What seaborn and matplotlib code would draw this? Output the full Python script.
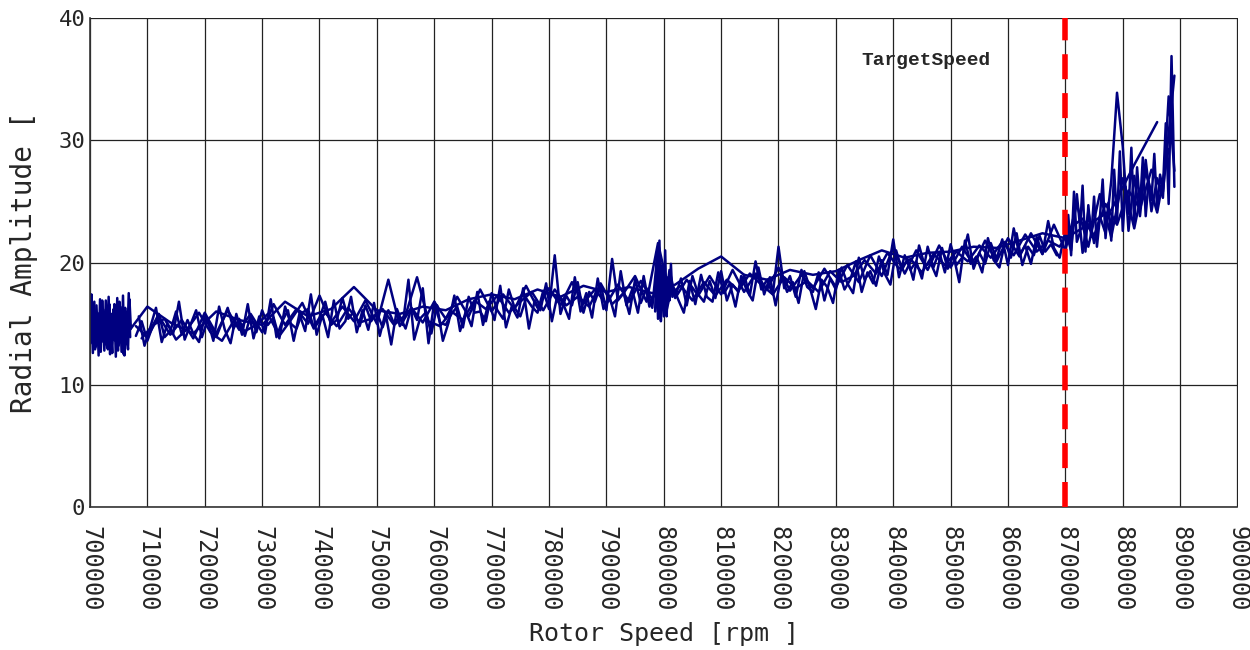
import numpy as np
import pandas as pd
import seaborn as sns
import matplotlib.pyplot as plt

# rotor speed sample grids (rpm) for each recorded run
rpm_burst_a = np.arange(700000, 707001, 250)
rpm_burst_b = np.arange(700125, 707126, 250)
rpm_run_a = np.arange(708000, 888001, 2000)
rpm_run_b = np.arange(709000, 889001, 2000)
rpm_run_c = np.arange(706000, 886001, 4000)
rpm_run_d = np.arange(708000, 889001, 1000)
rpm_run_e = np.arange(708500, 868501, 1000)
rpm_mid_burst = np.arange(798500, 801501, 250)
rpm_end_burst = np.arange(870000, 889001, 500)

# radial amplitude
amp_burst_a = [14.5, 17.4, 12.6, 16.8, 13.1, 15.9, 12.4, 17.0, 13.5, 16.2,
               12.8, 16.9, 13.0, 17.2, 12.5, 15.8, 13.7, 16.6, 12.3, 17.1,
               13.2, 16.4, 12.7, 17.3, 12.4, 16.0, 13.3, 17.5, 13.9]
amp_burst_b = [13.4, 16.1, 14.8, 12.9, 16.5, 13.8, 15.2, 12.7, 16.9, 14.1,
               13.3, 15.7, 12.9, 16.6, 14.4, 12.6, 16.2, 13.6, 15.4, 12.8,
               16.8, 13.9, 15.1, 12.5, 16.3, 14.0, 12.9, 17.0, 14.6]
amp_run_a = [14.8, 13.9, 15.6, 14.1, 15.3, 13.8, 15.9, 14.2, 16.1, 14.5,
             15.8, 14.3, 16.6, 14.9, 16.2, 15.0, 17.3, 15.1, 16.4, 15.2,
             16.9, 15.0, 18.6, 14.8, 16.3, 15.1, 16.8, 15.4, 17.2, 15.6,
             17.8, 16.0, 17.4, 16.2, 18.1, 16.3, 17.9, 16.5, 18.4, 16.7,
             17.8, 16.6, 18.2, 16.8, 18.5, 17.0, 19.2, 17.1, 18.6, 17.3,
             18.9, 17.4, 19.4, 17.6, 19.1, 17.8, 19.6, 17.7, 19.0, 17.9,
             19.5, 18.0, 19.8, 18.4, 20.6, 18.9, 21.2, 19.1, 21.0, 19.4,
             21.4, 19.6, 21.3, 19.8, 21.8, 20.1, 22.0, 20.5, 22.4, 20.7,
             23.1, 21.0, 24.8, 21.3, 25.6, 22.1, 26.9, 22.8, 27.4, 24.1, 29.3]
amp_run_b = [13.8, 14.9, 15.4, 13.7, 14.6, 15.9, 14.3, 13.6, 15.2, 14.4,
             14.9, 15.8, 14.0, 15.3, 16.7, 14.6, 15.9, 14.8, 16.3, 15.1,
             15.4, 16.2, 14.9, 15.7, 18.8, 15.2, 14.8, 16.0, 15.3, 16.9,
             16.2, 17.3, 15.9, 16.8, 17.6, 16.1, 17.8, 16.5, 17.2, 16.4,
             18.3, 16.6, 17.5, 18.9, 16.8, 21.6, 17.4, 18.1, 16.9, 18.4,
             17.3, 18.6, 17.7, 19.1, 18.2, 17.4, 18.8, 17.9, 18.5, 17.6,
             19.3, 18.4, 18.9, 20.2, 19.1, 20.8, 19.5, 20.3, 19.2, 20.7,
             19.8, 20.9, 20.1, 21.4, 20.4, 21.7, 20.6, 22.3, 20.9, 21.8,
             21.3, 22.9, 23.6, 22.2, 24.8, 23.1, 25.9, 24.4, 27.6, 25.8, 35.3]
amp_run_c = [13.9, 16.4, 15.1, 14.2, 16.0, 15.3, 14.9, 16.8, 15.6, 16.2,
             18.0, 16.1, 15.8, 16.4, 16.1, 17.0, 17.4, 17.0, 17.8, 17.2,
             18.1, 17.6, 18.0, 17.5, 18.2, 19.5, 20.5, 19.0, 18.6, 19.4,
             19.0, 19.3, 20.2, 21.0, 20.4, 20.8, 20.9, 21.3, 21.2, 21.8,
             22.4, 22.0, 23.1, 24.3, 28.0, 31.5]
amp_run_d = [14.0, 15.2, 13.6, 14.9, 15.8, 13.9, 14.4, 16.0, 14.1, 15.3,
             14.2, 13.5, 15.6, 14.8, 13.9, 15.1, 16.3, 14.6, 15.4, 14.0,
             15.7, 14.3, 16.1, 14.9, 15.5, 13.8, 16.4, 15.0, 14.6, 15.9,
             16.2, 14.7, 15.5, 16.8, 14.9, 15.3, 17.1, 15.4, 16.0, 14.8,
             16.5, 15.2, 15.9, 14.7, 16.1, 15.0, 15.6, 14.6, 16.3, 15.3,
             17.9, 13.4, 16.8, 15.1, 14.9, 15.8, 16.4, 14.7, 17.2, 15.9,
             16.0, 15.2, 17.5, 16.1, 15.4, 17.8, 16.3, 15.6, 17.1, 16.4,
             15.9, 17.7, 16.2, 20.6, 15.8, 17.3, 16.5, 18.4, 15.9, 17.6,
             16.8, 18.2, 16.1, 20.3, 16.9, 17.5, 15.8, 18.6, 16.7, 17.9,
             16.3, 21.2, 15.6, 19.4, 17.2, 18.7, 16.5, 18.9, 17.4, 16.8,
             18.5, 17.1, 19.3, 16.9, 18.2, 17.6, 19.0, 17.3, 20.1, 17.8,
             18.6, 17.4, 21.3, 17.9, 18.9, 17.2, 19.4, 18.0, 17.6, 19.2,
             16.9, 18.7, 17.8, 19.6, 18.3, 17.5, 20.4, 18.6, 19.3, 18.1,
             20.2, 19.0, 21.9, 18.8, 20.6, 19.4, 20.1, 18.7, 21.3, 19.6,
             20.9, 19.2, 21.5, 19.8, 20.4, 22.3, 19.5, 20.8, 19.9, 21.6,
             20.3, 21.9, 19.8, 22.8, 20.6, 21.4, 19.9, 22.1, 20.7, 23.4,
             21.2, 20.4, 22.6, 21.0, 25.6, 20.8, 24.2, 21.6, 23.8, 22.4,
             26.7, 33.9, 29.5, 22.6, 27.1, 23.8, 28.4, 24.2, 26.9, 25.3,
             33.6, 27.5]
amp_run_e = [15.6, 13.2, 14.7, 16.3, 13.5, 15.0, 14.2, 16.8, 13.7, 14.9,
             16.1, 13.9, 15.3, 13.6, 16.4, 14.5, 13.4, 15.8, 14.1, 16.6,
             13.8, 15.6, 14.2, 17.0, 13.9, 15.2, 16.1, 13.6, 15.8, 14.4,
             17.4, 14.1, 15.7, 13.9, 16.9, 14.6, 15.2, 17.2, 14.3, 16.1,
             14.5, 16.7, 14.0, 15.9, 13.3, 16.2, 14.9, 18.6, 13.7, 15.4,
             15.9, 14.2, 16.5, 13.6, 15.1, 17.3, 14.4, 16.0, 14.8, 17.6,
             14.9, 16.8, 15.3, 18.1, 14.7, 16.4, 15.5, 17.9, 14.6, 16.9,
             16.1, 18.3, 15.2, 17.4, 16.6, 15.4, 18.8, 16.0, 17.5, 15.5,
             18.7, 16.2, 17.3, 15.6, 19.3, 16.5, 17.8, 15.9, 18.9, 16.4,
             17.6, 19.8, 16.1, 18.2, 17.0, 15.9, 18.5, 16.6, 19.0, 17.2,
             16.8, 19.2, 17.5, 18.3, 16.4, 18.9, 17.7, 16.9, 19.6, 17.4,
             18.8, 16.5, 19.0, 17.6, 18.4, 16.7, 19.3, 17.9, 16.2, 18.6,
             18.0, 16.7, 19.4, 17.8, 18.6, 20.1, 17.6, 19.2, 18.3, 20.5,
             19.1, 18.2, 21.0, 19.4, 20.3, 18.6, 21.4, 19.7, 20.0, 18.9,
             21.2, 19.5, 20.6, 18.4, 21.8, 19.9, 20.5, 19.2, 22.0, 20.2,
             19.6, 21.7, 20.4, 22.4, 19.8, 21.3, 20.6, 22.2, 20.9, 21.5,
             20.6]
amp_mid_burst = [16.0, 20.3, 15.4, 21.8, 15.2, 19.6, 16.4, 21.0, 15.6, 18.8,
                 16.9, 19.9, 17.2]
amp_end_burst = [21.0, 23.9, 20.6, 25.8, 21.7, 22.4, 26.3, 20.9, 24.7, 22.1,
                 25.4, 21.3, 23.6, 26.8, 22.0, 24.9, 21.8, 27.6, 23.4, 29.1,
                 22.6, 26.2, 24.0, 29.4, 23.1, 27.8, 24.5, 28.6, 23.8, 26.7,
                 25.1, 28.9, 24.3, 27.2, 26.0, 31.4, 24.8, 36.9, 26.2]

target_speed = 870000
x_ticks = list(range(700000, 900001, 10000))
y_ticks = [0, 10, 20, 30, 40]

runs = {
    'burst_a': (rpm_burst_a, amp_burst_a),
    'burst_b': (rpm_burst_b, amp_burst_b),
    'run_a': (rpm_run_a, amp_run_a),
    'run_b': (rpm_run_b, amp_run_b),
    'run_c': (rpm_run_c, amp_run_c),
    'run_d': (rpm_run_d, amp_run_d),
    'run_e': (rpm_run_e, amp_run_e),
    'mid_burst': (rpm_mid_burst, amp_mid_burst),
    'end_burst': (rpm_end_burst, amp_end_burst),
}
frames = [pd.DataFrame({'rpm': x, 'amp': y, 'run': name}) for name, (x, y) in runs.items()]
df = pd.concat(frames, ignore_index=True)

sns.set_style('white')
plt.rcParams['font.family'] = ['DejaVu Sans Mono', 'DejaVu Sans']

fig = plt.figure(figsize=(12.5, 6.5), dpi=100)
ax = fig.add_axes([0.072, 0.22, 0.918, 0.752])

sns.lineplot(data=df, x='rpm', y='amp', units='run', estimator=None,
             color='#000080', linewidth=1.8, sort=False, ax=ax, legend=False)

ax.axvline(target_speed, color='#ff0000', linewidth=4, linestyle=(0, (4.5, 2.5)), zorder=5)
ax.text(834500, 36.5, 'TargetSpeed', family='Liberation Mono', fontweight='bold',
        fontsize=14, va='center', ha='left')

ax.set_xlim(700000, 900000)
ax.set_ylim(0, 40)
ax.set_xticks(x_ticks)
ax.set_xticklabels([str(t) for t in x_ticks], rotation=-90, fontsize=17)
ax.set_yticks(y_ticks)
ax.set_yticklabels([str(t) for t in y_ticks], fontsize=16)
ax.tick_params(direction='in', length=6, width=1, color='#333333')
ax.tick_params(axis='x', pad=14)

ax.grid(True, color='#222222', linewidth=0.9)
ax.set_axisbelow(True)
for side in ['top', 'right']:
    ax.spines[side].set_visible(False)
for side in ['left', 'bottom']:
    ax.spines[side].set_color('#333333')
    ax.spines[side].set_linewidth(1.2)

ax.set_xlabel('Rotor Speed [rpm ]', fontsize=18, labelpad=7)
ax.set_ylabel('Radial Amplitude [', fontsize=20, labelpad=15)

fig.savefig('out.png', dpi=100)
